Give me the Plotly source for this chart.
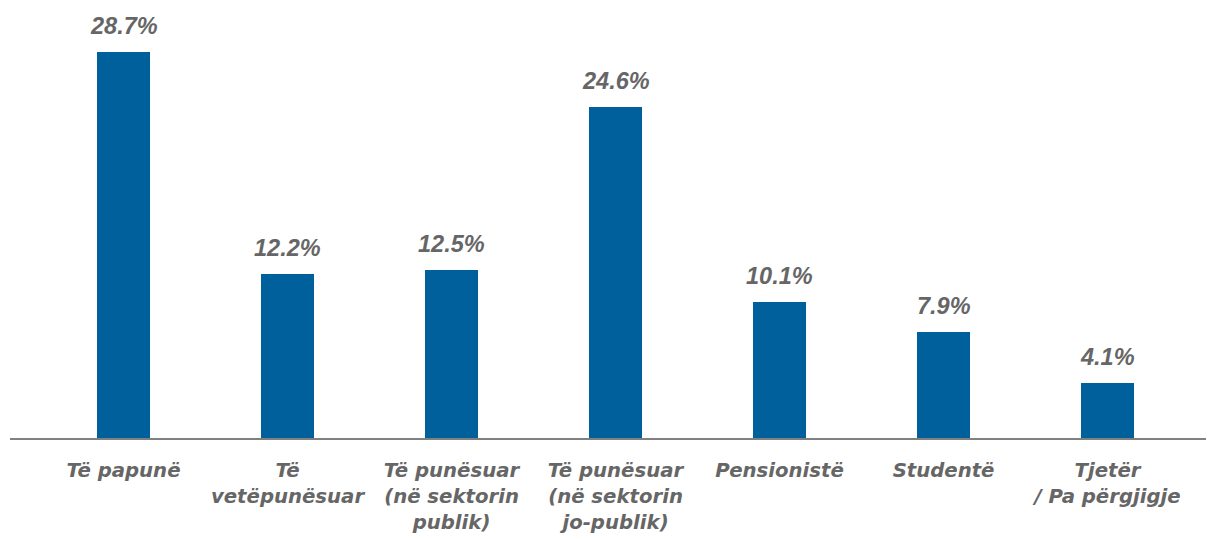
import plotly.graph_objects as go

categories = ["Të papunë", "Të<br>vetëpunësuar", "Të punësuar<br>(në sektorin<br>publik)",
              "Të punësuar<br>(në sektorin<br>jo-publik)", "Pensionistë", "Studentë",
              "Tjetër<br>/ Pa përgjigje"]
values = [28.7, 12.2, 12.5, 24.6, 10.1, 7.9, 4.1]
labels = [f"{v:.1f}%" for v in values]

BAR = "#00609c"
GREY = "#666666"
VFONT = "Liberation Sans, Arial, Helvetica, sans-serif"
TFONT = "DejaVu Sans, Liberation Sans, sans-serif"

fig = go.Figure(go.Bar(
    x=list(range(len(categories))), y=values, width=0.323,
    marker=dict(color=BAR, line=dict(width=0)),
    hoverinfo="skip",
))

for i, (v, t) in enumerate(zip(values, labels)):
    fig.add_annotation(x=i, y=v, text=t, showarrow=False, yanchor="bottom", yshift=11,
                       font=dict(family=VFONT, size=23.5, color=GREY, weight="bold", style="italic"))

fig.update_layout(
    width=1206, height=531,
    margin=dict(l=2, r=0, t=0, b=101),
    plot_bgcolor="white", paper_bgcolor="white",
    showlegend=False,
    bargap=0,
)
fig.update_xaxes(
    range=[-0.692, 6.649],
    tickmode="array", tickvals=list(range(len(categories))), ticktext=categories,
    tickfont=dict(family=TFONT, size=19.7, color=GREY, weight="bold", style="italic"),
    showline=True, linecolor="#808080", linewidth=1.5,
    ticks="", showgrid=False, zeroline=False, ticklabelstandoff=14,
)
fig.update_yaxes(range=[0, 31.97], visible=False, showgrid=False, zeroline=False)

fig.write_html("out.html")
